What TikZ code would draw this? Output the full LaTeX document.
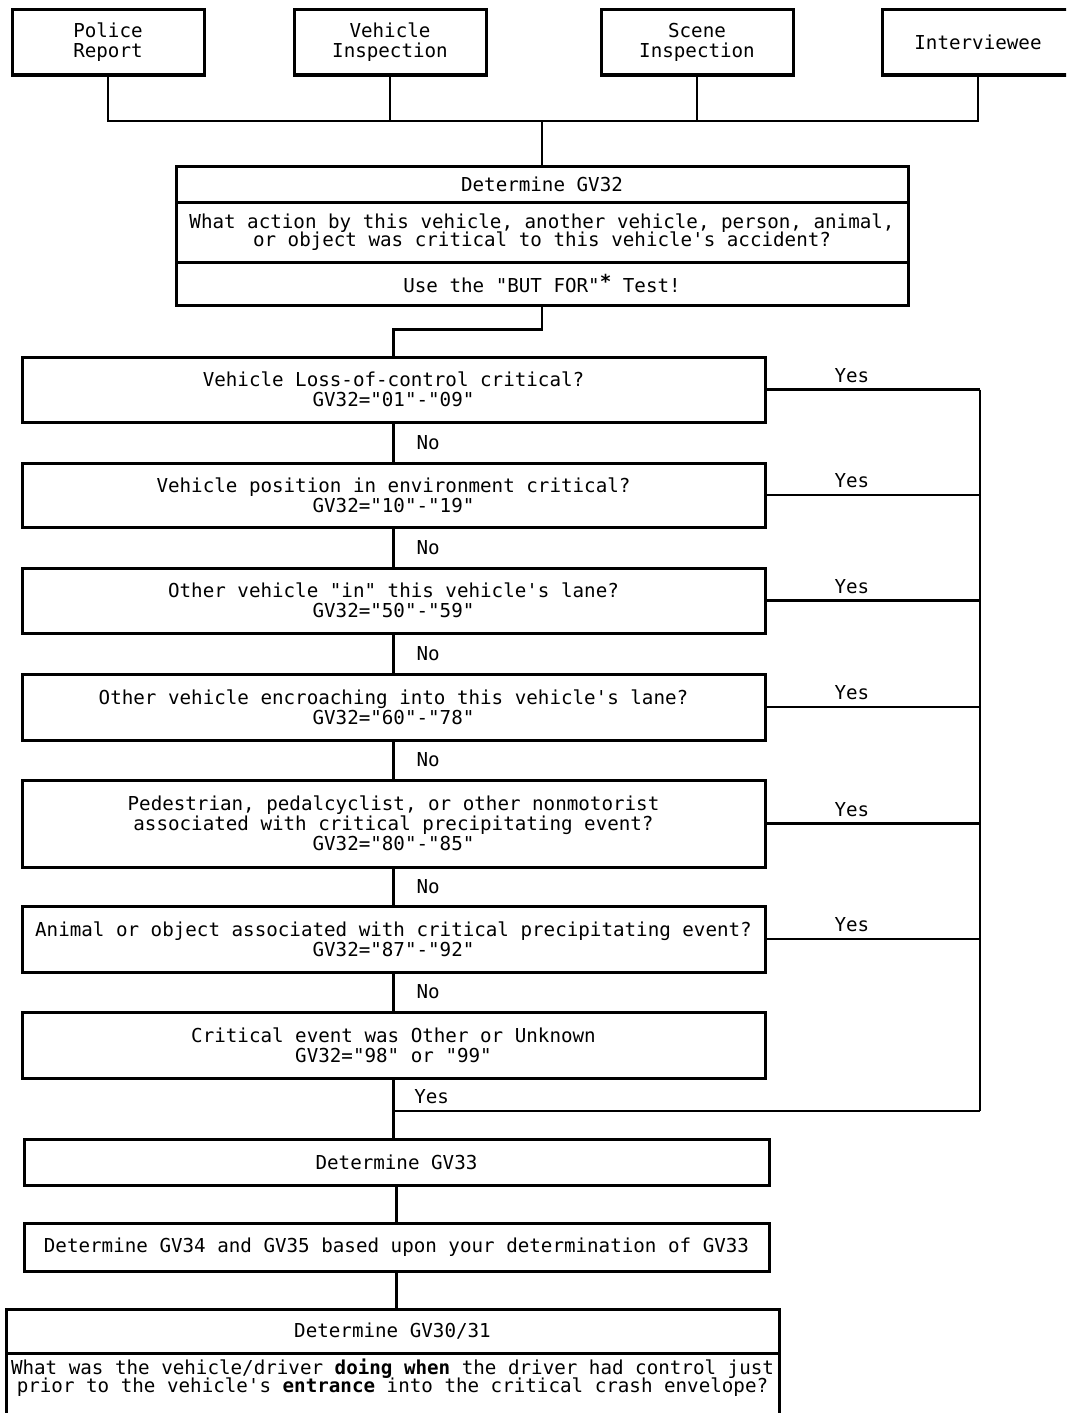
\documentclass[tikz,border=0pt]{standalone}
\usepackage{fontspec}
\newfontfamily\tw{DejaVu Sans Mono}
\begin{document}
\lineskiplimit=-50pt\relax
\begin{tikzpicture}[x=1pt,y=-1pt,
  every node/.style={font=\tw\fontsize{19.2}{20}\selectfont},
  box/.style={draw, line width=3pt, inner sep=0pt, align=center},
  srcbox/.style={box, minimum width=192pt, minimum height=65pt},
  decbox/.style={box, minimum width=743pt},
  widebox/.style={box, minimum width=745pt},
  tight/.style={font=\tw\fontsize{19.2}{18}\selectfont},
  conn/.style={line width=2.2pt},
  nolbl/.style={midway, anchor=west, xshift=22pt, inner sep=0pt},
  yeslbl/.style={pos=0.4, anchor=south, yshift=6pt, inner sep=0pt}]
\useasboundingbox (0,0) rectangle (1066,1413);
\fill[white] (0,0) rectangle (1066,1413);
\clip (0,0) rectangle (1066,1413);

% source boxes
\node[srcbox] (police) at (108,42.5) {Police\\Report};
\node[srcbox] (vehinsp) at (390,42.5) {Vehicle\\Inspection};
\node[srcbox] (sceneinsp) at (697,42.5) {Scene\\Inspection};
\node[srcbox] (interv) at (978,42.5) {Interviewee};
\coordinate (bus) at (0,121);

% GV32 box
\node[box, minimum width=732pt, minimum height=36pt] (gv32a) at (542,184) {Determine GV32};
\node[box, tight, minimum width=732pt, minimum height=60pt] (gv32b) at (542,232) {What action by this vehicle, another vehicle, person, animal,\\or object was critical to this vehicle's accident?};
\node[box, minimum width=732pt, minimum height=43pt] (gv32c) at (542,283.5) {Use the "BUT FOR"\raisebox{4pt}{\textbf{*}} Test!};

% decision boxes
\node[decbox, minimum height=65pt] (d1) at (393.5,389.5) {Vehicle Loss-of-control critical?\\GV32="01"-"09"};
\node[decbox, minimum height=64pt] (d2) at (393.5,495) {Vehicle position in environment critical?\\GV32="10"-"19"};
\node[decbox, minimum height=65pt] (d3) at (393.5,600.5) {Other vehicle "in" this vehicle's lane?\\GV32="50"-"59"};
\node[decbox, minimum height=66pt] (d4) at (393.5,707) {Other vehicle encroaching into this vehicle's lane?\\GV32="60"-"78"};
\node[decbox, minimum height=87pt] (d5) at (393.5,823.5) {Pedestrian, pedalcyclist, or other nonmotorist\\associated with critical precipitating event?\\GV32="80"-"85"};
\node[decbox, minimum height=66pt] (d6) at (393.5,939) {Animal or object associated with critical precipitating event?\\GV32="87"-"92"};
\node[decbox, minimum height=66pt] (d7) at (393.5,1045) {Critical event was Other or Unknown\\GV32="98" or "99"};

% lower boxes
\node[widebox, minimum height=46pt] (gv33) at (396.5,1162) {Determine GV33};
\node[widebox, minimum height=48pt] (gv34) at (396.5,1247) {Determine GV34 and GV35 based upon your determination of GV33};
\node[box, minimum width=773pt, minimum height=44pt] (gv30a) at (392.5,1331) {Determine GV30/31};
\node[box, minimum width=773pt, minimum height=77pt] (gv30b) at (392.5,1391.5) {};
\node[tight, inner sep=0pt, align=center, anchor=north] (gv30txt) at (392.5,1359) {What was the vehicle/driver \textbf{doing when} the driver had control just\\prior to the vehicle's \textbf{entrance} into the critical crash envelope?};

% top bus
\draw[conn] (police.south) -- (police.south |- bus) -- (interv.south |- bus) -- (interv.south);
\draw[conn] (vehinsp.south) -- (vehinsp.south |- bus);
\draw[conn] (sceneinsp.south) -- (sceneinsp.south |- bus);
\draw[conn] (gv32a.north |- bus) -- (gv32a.north);

% GV32 to first decision
\draw[conn] (gv32c.south) -- ++(0,23) -| (d1.north);

% No chain
\draw[conn] (d1.south) -- node[nolbl]{No} (d2.north);
\draw[conn] (d2.south) -- node[nolbl]{No} (d3.north);
\draw[conn] (d3.south) -- node[nolbl]{No} (d4.north);
\draw[conn] (d4.south) -- node[nolbl]{No} (d5.north);
\draw[conn] (d5.south) -- node[nolbl]{No} (d6.north);
\draw[conn] (d6.south) -- node[nolbl]{No} (d7.north);

% Yes branches
\coordinate (rbus) at (980,0);
\coordinate (jy) at (0,1111);
\coordinate (j) at (d7.south |- jy);
\draw[conn] (d1.east) -- node[yeslbl]{Yes} (d1.east -| rbus);
\draw[conn] (d2.east) -- node[yeslbl]{Yes} (d2.east -| rbus);
\draw[conn] (d3.east) -- node[yeslbl]{Yes} (d3.east -| rbus);
\draw[conn] (d4.east) -- node[yeslbl]{Yes} (d4.east -| rbus);
\draw[conn] (d5.east) -- node[yeslbl]{Yes} (d5.east -| rbus);
\draw[conn] (d6.east) -- node[yeslbl]{Yes} (d6.east -| rbus);
\draw[conn] (d1.east -| rbus) -- (rbus |- jy);
\draw[conn] (j) -- node[pos=0.065, anchor=south, yshift=6pt, inner sep=0pt]{Yes} (rbus |- jy);

% down the lower chain
\draw[conn] (d7.south) -- (d7.south |- gv33.north);
\draw[conn] (gv33.south) -- (gv34.north);
\draw[conn] (gv34.south) -- (gv34.south |- gv30a.north);
\end{tikzpicture}
\end{document}
